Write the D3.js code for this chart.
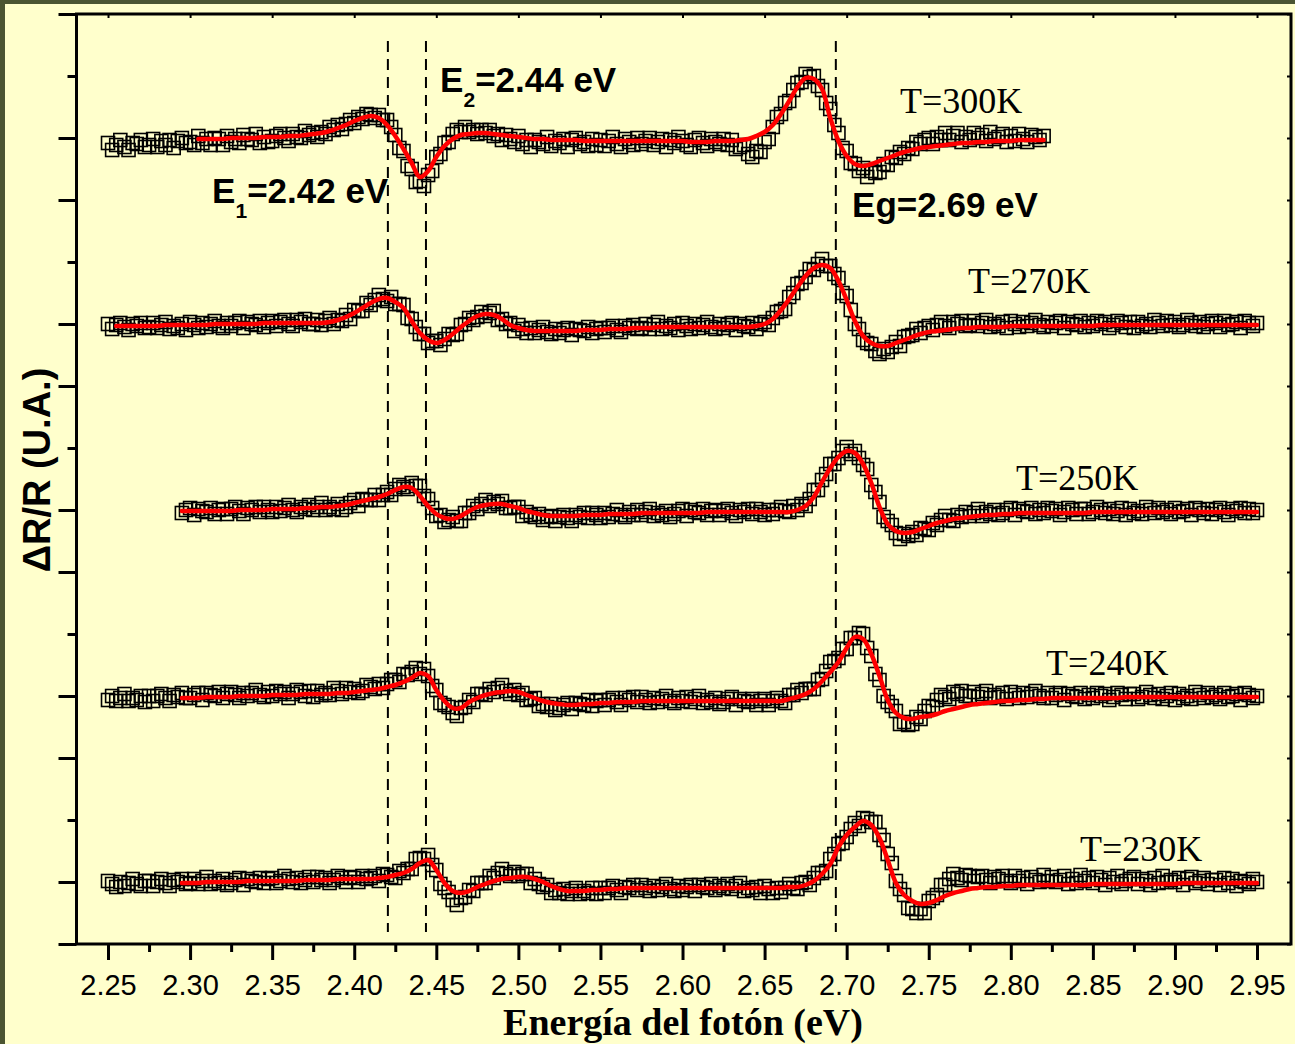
<!DOCTYPE html>
<html>
<head>
<meta charset="utf-8">
<script src="https://cdn.jsdelivr.net/npm/d3@7"></script>
<style>
  html, body { margin: 0; padding: 0; background: #4b5532; }
  svg { display: block; }
</style>
</head>
<body>
<svg id="chart" width="1295" height="1044"></svg>
<script>
// ---- Photoreflectance spectra (ΔR/R, arbitrary units) at several temperatures ----
const temps = ["T=300K", "T=270K", "T=250K", "T=240K", "T=230K"];
// vertical offset applied to each spectrum (same units as the y axis)
const offsets = [806, 620, 434, 248, 62];
// measured points: first photon energy (eV) and sampling step
const dataStart = [2.25, 2.25, 2.295, 2.25, 2.25];
const dataStep = 0.0025;
// fitted line-shape: first photon energy (eV) and sampling step
const fitStart = [2.305, 2.255, 2.295, 2.295, 2.295];
const fitStep = 0.005;

// measured ΔR/R, T = 300 K
const d300 = [
  -5,-12,-7,-2,-9,-12,-5,-6,-2,-9, -7,-1,-9,-3,-7,-2,-10,-3,0,-5,
  -4,-7,2,-5,-1,-7,0,-1,-7,2, -4,-1,-5,3,-1,-2,4,-5,1,-4,
  -3,2,4,0,-3,4,1,0,7,3, 5,1,6,4,11,8,13,9,14,18,
  15,21,19,24,23,20,23,18,18,11, 3,-10,-13,-28,-31,-44,-43,-48,-37,-33,
  -19,-16,-5,-4,4,8,6,11,6,8, 4,8,5,8,2,4,-2,3,-1,-4,
  2,-6,-2,-9,-2,-4,-6,1,-8,-3, -5,-1,-9,-2,0,-6,-4,-8,-1,-7,
  -2,-8,-3,1,-6,-9,-1,-4,-7,0, -6,-3,0,-7,-4,-1,-9,-2,-5,1,
  -3,-7,-9,-2,0,-5,-8,-1,-4,-6, -1,-7,-2,-11,-9,-7,-16,-19,-13,-14,
  -4,-1,11,21,24,35,37,48,55,56, 64,61,62,52,48,35,29,13,5,-10,
  -13,-25,-26,-33,-30,-39,-33,-35,-34,-26, -27,-19,-20,-14,-16,-10,-11,-4,-6,-2,
  0,-6,1,-2,5,-2,2,5,-4,1, -2,5,0,3,-3,6,-1,1,4,-4,
  2,-3,4,-1,-4,3,1,-2,2
];
// measured ΔR/R, T = 270 K
const d270 = [
  0,-5,-1,1,-3,-6,0,-2,1,-4, -3,1,-4,-1,2,-5,-2,-4,0,-6,
  2,-1,-4,1,-3,0,3,-2,-4,1, -2,1,3,-4,2,0,-1,3,-3,1,
  3,-2,2,4,0,-2,4,2,5,0, 0,4,-1,3,6,0,4,3,9,5,
  14,13,13,21,19,24,29,25,23,27, 20,20,19,6,5,-3,-10,-10,-19,-17,
  -17,-21,-15,-10,-11,-10,-1,0,6,4, 7,12,8,11,13,4,5,0,1,-7,
  -1,-5,-9,-4,-9,-6,-3,-8,-10,-5, -9,-6,-4,-11,-5,-6,-7,-3,-9,-5,
  -4,-8,-4,-2,-6,-8,-2,-4,-1,-5, -4,0,-5,-1,2,-5,-2,-4,0,-6,
  1,-2,-5,0,-4,-1,2,-3,-5,0, -4,-1,1,-6,0,-2,-3,1,-5,0,
  2,-1,6,12,13,15,27,31,40,41, 47,55,54,60,65,58,58,50,46,31,
  28,14,0,-5,-16,-19,-20,-27,-30,-25, -28,-23,-18,-22,-13,-12,-11,-5,-9,-4,
  -2,-6,-1,2,-2,-4,2,0,3,-2, -1,3,-2,1,4,-3,0,-2,2,-4,
  3,0,-3,2,-2,1,4,-1,-3,2, -2,1,3,-4,2,0,-1,3,-3,1,
  -2,3,0,2,-4,-1,3,1,-3,2, -4,2,-2,0,-3,4,1,-2,3,-1,
  2,-3,-1,4,1,-2,2,-3,0,3, 1,-3,3,-1,0,2,-4,3,1,-2,
  1
];
// measured ΔR/R, T = 250 K
const d250 = [
  -3,0,2,-5,1,-1,-2,2,-4,0, 1,-4,1,3,-1,-4,2,0,3,-2,
  3,0,-2,3,-1,2,5,0,-2,3, 1,5,0,3,7,0,3,1,6,0,
  3,7,10,4,11,10,10,15,10,15, 18,15,21,25,23,21,27,24,24,14,
  11,2,-6,-5,-12,-10,-7,-11,-11,-3, -3,4,1,6,10,4,8,6,9,2,
  2,3,3,-6,-2,-5,-7,-4,-10,-7, -6,-11,-7,-5,-8,-11,-5,-7,-3,-8,
  -3,-5,-8,-3,-7,-4,0,-5,-7,-2, -5,0,-5,-2,1,-6,-3,-5,-1,-7,
  -4,-1,1,-6,0,-2,-3,1,-5,-1, 0,-5,-1,1,-3,-6,0,-2,1,-4,
  1,-2,-5,0,-4,0,3,-1,-2,4, 0,6,4,11,20,20,30,36,46,46,
  52,59,63,56,59,52,45,41,25,18, 8,-7,-11,-15,-23,-29,-24,-26,-22,-25,
  -18,-19,-20,-13,-15,-10,-6,-10,-11,-5, -7,-2,-6,-3,1,-6,-2,-4,0,-5,
  -3,0,2,-5,1,-1,-2,2,-4,0, -3,2,-1,1,-5,-2,2,0,-4,1,
  1,-4,-2,3,0,-3,1,-4,-1,2, -5,1,-3,-1,-4,3,0,-3,2,-2,
  0,-4,2,-2,-1,1,-5,2,0,-3, 1,-4,0,2,-2,-5,1,-1,2,-3,
  1,-3,0
];
// measured ΔR/R, T = 240 K
const d240 = [
  -4,0,-5,-2,2,-5,-2,-4,0,-6, 0,-5,0,2,-2,-5,1,-1,3,-2,
  -2,1,3,-4,3,1,0,4,-2,2, 4,1,-2,3,0,3,6,1,-1,4,
  0,5,2,4,-2,2,6,4,0,5, -1,5,1,3,1,8,5,2,8,4,
  7,3,5,11,9,7,12,8,12,16, 16,14,22,21,24,28,22,27,20,10,
  6,-7,-9,-11,-17,-20,-12,-11,-4,-6, 2,2,1,7,4,8,11,5,2,6,
  1,3,-4,-3,-2,-10,-8,-11,-8,-14, -12,-9,-7,-13,-7,-8,-9,-4,-10,-5,
  -4,-9,-4,-2,-6,-9,-2,-4,-1,-6, -1,-4,-7,-2,-6,-3,0,-5,-7,-2,
  -5,-1,-6,-3,0,-7,-4,-6,-2,-8, -6,-3,-1,-9,-3,-5,-6,-3,-9,-5,
  -3,-9,-5,-2,-5,-7,1,1,6,3, 7,7,7,16,17,25,34,35,38,47,
  47,58,58,63,62,48,40,22,16,0, -6,-10,-15,-28,-26,-29,-28,-21,-23,-15,
  -10,-11,-4,1,-1,-3,4,2,5,0, 0,4,-1,2,5,-2,1,-1,3,-3,
  4,1,-2,3,-1,2,5,0,-2,3, -2,1,3,-4,2,0,-1,3,-3,1,
  -2,3,0,2,-4,-1,3,1,-3,2, 2,-3,-1,4,1,-2,2,-3,0,3,
  -4,2,-2,0,-3,4,1,-2,3,-1, 1,-3,3,-1,0,2,-4,3,1,-2,
  0
];
// measured ΔR/R, T = 230 K
const d230 = [
  1,-2,-5,0,-4,-1,3,-2,-4,1, 1,-4,0,3,-1,-4,2,0,3,-2,
  -1,3,-2,1,5,-2,1,-1,3,-3, -1,2,4,-3,3,1,0,4,-1,3,
  4,-1,1,6,3,0,4,-1,2,5, 0,5,2,4,-1,2,6,4,0,5,
  4,0,6,3,4,6,1,8,7,5, 4,11,9,13,13,23,24,23,27,17,
  12,-2,-6,-10,-18,-23,-16,-15,-8,-9, -1,-1,-1,6,4,9,13,8,6,10,
  6,8,8,-1,3,-2,-5,-3,-11,-8, -11,-7,-12,-9,-6,-12,-9,-11,-6,-12,
  -6,-11,-6,-4,-8,-11,-5,-6,-3,-8, -3,-6,-9,-4,-8,-5,-2,-7,-9,-4,
  -8,-5,-3,-9,-3,-5,-6,-2,-8,-4, -6,-2,-7,-4,-1,-9,-6,-8,-5,-11,
  -4,-7,-11,-6,-10,-6,-2,-6,-7,-1, 0,-3,4,9,9,11,23,28,38,39,
  45,53,59,56,64,63,60,60,47,42, 28,19,1,-7,-13,-26,-27,-31,-27,-31,
  -19,-16,-13,-3,-3,3,8,4,2,7, 6,1,5,6,2,-1,5,3,6,1,
  -1,6,1,4,-2,5,2,0,7,1, 5,0,2,6,-2,3,-1,7,1,4,
  -1,5,2,-3,4,0,6,-2,1,3, 5,-2,3,1,-3,4,-1,6,0,2,
  0,4,-3,3,5,-1,1,4,-2,2, 2,-3,4,-1,3,-4,1,0,-2,3,
  0
];

// fitted line-shapes
const f300 = [
  -1,-1,-1,-1,0,0,0,0,1,
  1,1,2,2,3,4,5,7,10,13,
  17,20,22,20,13,2,-11,-25,-39,-33,
  -19,-8,-1,3,4,5,5,4,3,2,
  1,0,-1,-1,-2,-2,-2,-2,-3,-3,
  -3,-3,-3,-3,-3,-3,-3,-3,-3,-3,
  -3,-4,-4,-4,-3,-3,-3,-2,-1,2,
  6,13,24,37,51,60,59,49,20,-3,
  -18,-26,-28,-26,-23,-20,-17,-14,-12,-10,
  -9,-8,-7,-6,-5,-5,-4,-4,-3,-3,
  -3,-2,-2,-2,-2
];
const f270 = [
  -2,-2,-2,-2,-2,-2,-1,-1,-1,-1,
  -1,-1,0,0,0,0,0,0,1,1,
  1,1,1,1,1,1,2,4,7,11,
  16,21,25,26,22,16,3,-9,-16,-19,
  -16,-10,-3,3,8,10,9,5,-1,-4,
  -6,-7,-7,-7,-7,-7,-7,-6,-6,-6,
  -5,-5,-5,-4,-4,-4,-3,-3,-3,-3,
  -3,-3,-3,-3,-3,-3,-3,-3,-2,0,
  5,14,25,37,48,56,59,56,43,24,
  3,-12,-19,-22,-22,-19,-16,-13,-10,-8,
  -7,-6,-5,-4,-4,-3,-3,-3,-3,-2,
  -2,-2,-2,-2,-2,-2,-2,-2,-2,-2,
  -1,-1,-1,-1,-1,-1,-1,-1,-1,-1,
  -1,-1,-1,-1,-1,-1,-1,-1,-1,-1
];
const f250 = [
  -1,-1,-1,-1,-1,-1,-1,0,0,0,
  0,1,1,1,1,2,2,3,3,4,
  5,7,9,11,13,16,20,23,22,14,
  4,-4,-8,-9,-6,-1,3,5,6,6,
  4,2,-1,-3,-5,-6,-6,-6,-6,-5,
  -5,-5,-4,-4,-4,-4,-3,-3,-3,-3,
  -3,-3,-3,-3,-2,-2,-2,-2,-2,-2,
  -2,-2,-2,-2,-2,0,4,13,28,42,
  53,59,57,46,27,3,-14,-21,-23,-22,
  -19,-16,-13,-11,-9,-8,-7,-6,-5,-5,
  -4,-4,-3,-3,-3,-3,-3,-3,-3,-3,
  -3,-2,-2,-2,-2,-2,-2,-2,-2,-2,
  -2,-2,-2,-2,-2,-2,-2,-2,-2,-2,
  -2,-2
];
const f240 = [
  -2,-2,-2,-1,-1,-1,-1,0,0,0,
  0,1,1,1,1,2,2,2,2,3,
  3,4,5,6,7,9,11,14,18,23,
  20,6,-5,-12,-12,-6,-2,1,3,4,
  5,4,1,-2,-5,-7,-8,-9,-9,-8,
  -8,-7,-7,-6,-6,-6,-5,-5,-5,-5,
  -5,-5,-5,-5,-5,-5,-5,-5,-5,-5,
  -5,-5,-5,-5,-3,-1,2,7,15,24,
  34,48,59,57,42,20,-4,-17,-22,-23,
  -21,-20,-18,-15,-13,-11,-9,-8,-7,-6,
  -5,-5,-4,-4,-3,-3,-2,-2,-2,-2,
  -2,-2,-2,-2,-2,-1,-1,-1,-1,-1,
  -1,-1,-1,-1,-1,-1,-1,-1,-1,-1,
  -1,-1
];
const f230 = [
  -1,-1,-1,0,0,0,0,0,1,1,
  1,1,1,1,1,2,2,2,2,3,
  3,3,3,3,4,5,7,9,13,19,
  22,12,-1,-9,-11,-9,-5,-2,1,3,
  4,5,5,3,0,-4,-7,-9,-9,-9,
  -8,-8,-7,-7,-6,-6,-6,-6,-6,-6,
  -6,-6,-6,-6,-6,-6,-6,-6,-6,-6,
  -6,-6,-6,-6,-5,-5,-3,1,8,18,
  35,47,55,61,57,44,22,-1,-13,-19,
  -22,-21,-18,-14,-11,-9,-7,-6,-5,-5,
  -4,-4,-3,-3,-3,-3,-3,-3,-3,-3,
  -3,-2,-2,-2,-2,-2,-2,-2,-2,-2,
  -2,-2,-1,-1,-1,-1,-1,-1,-1,-1,
  -1,-1
];

const measured = [d300, d270, d250, d240, d230];
const fitted = [f300, f270, f250, f240, f230];

// transition energies (eV): E1, E2 and band gap Eg
const transitions = [2.4205, 2.4437, 2.6934];
const transitionNames = ["E", "E", "Eg"];
const transitionSubs = ["1", "2", ""];

// axis ticks
const xMajor = [2.25, 2.30, 2.35, 2.40, 2.45, 2.50, 2.55, 2.60, 2.65, 2.70, 2.75, 2.80, 2.85, 2.90, 2.95];
const xMinor = [2.275, 2.325, 2.375, 2.425, 2.475, 2.525, 2.575, 2.625, 2.675, 2.725, 2.775, 2.825, 2.875, 2.925];
const yTicks = [0, 62, 124, 186, 248, 310, 372, 434, 496, 558, 620, 682, 744, 806, 868, 930];

// ---- layout ----
const W = 1295, H = 1044;
const x = d3.scaleLinear().domain([2.2308, 2.9707]).range([76.5, 1291]);
const y = d3.scaleLinear().domain([0, 930]).range([944, 14]);

// label anchors (energy, y units)
const tempLabelPos = [[2.7325, 831], [2.7739, 651], [2.8032, 454], [2.8215, 269], [2.8422, 83]];
const transLabelPos = [[2.3134, 741], [2.4523, 852], [2.7033, 727]];

const SANS = "'Liberation Sans', Arial, Helvetica, sans-serif";
const SERIF = "'Liberation Serif', 'Times New Roman', Times, serif";

const svg = d3.select("#chart");

// page background and frame colour
svg.append("rect").attr("width", W).attr("height", H).attr("fill", "#4b5532");
svg.append("rect").attr("x", 5).attr("y", 4).attr("width", W - 5).attr("height", H - 4).attr("fill", "#ffffcc");

// dashed markers at the transition energies
svg.append("g").selectAll("line").data(transitions).join("line")
  .attr("x1", d => x(d)).attr("x2", d => x(d))
  .attr("y1", y(903)).attr("y2", y(12))
  .attr("stroke", "#000").attr("stroke-width", 2)
  .attr("stroke-dasharray", "11,7");

// spectra: open squares for measured points, red line for the fit
const line = d3.line()
  .x(d => x(d[0])).y(d => y(d[1]))
  .curve(d3.curveCatmullRom.alpha(0.5));

measured.forEach((vals, i) => {
  const pts = vals.map((v, k) => [dataStart[i] + dataStep * k, offsets[i] + v]);
  const fit = fitted[i].map((v, k) => [fitStart[i] + fitStep * k, offsets[i] + v]);
  const g = svg.append("g");
  g.selectAll("rect").data(pts).join("rect")
    .attr("x", d => x(d[0]) - 6.5).attr("y", d => y(d[1]) - 6.5)
    .attr("width", 13).attr("height", 13)
    .attr("fill", "none").attr("stroke", "#000").attr("stroke-width", 1.6);
  g.append("path").datum(fit)
    .attr("d", line)
    .attr("fill", "none").attr("stroke", "#ff0000")
    .attr("stroke-width", 4.5).attr("stroke-linejoin", "round").attr("stroke-linecap", "round");
});

// temperature labels
svg.append("g").selectAll("text").data(temps).join("text")
  .attr("x", (d, i) => x(tempLabelPos[i][0]))
  .attr("y", (d, i) => y(tempLabelPos[i][1]))
  .attr("font-family", SERIF).attr("font-size", 36).attr("fill", "#000")
  .text(d => d);

// transition labels
const fmt = d3.format(".2f");
transitions.forEach((e, i) => {
  const t = svg.append("text")
    .attr("x", x(transLabelPos[i][0])).attr("y", y(transLabelPos[i][1]))
    .attr("font-family", SANS).attr("font-weight", "bold")
    .attr("font-size", 35).attr("fill", "#000");
  t.append("tspan").text(transitionNames[i]);
  if (transitionSubs[i]) {
    t.append("tspan").attr("font-size", 21).attr("dy", 15).text(transitionSubs[i]);
    t.append("tspan").attr("dy", -15).text("=" + fmt(e) + " eV");
  } else {
    t.append("tspan").text("=" + fmt(e) + " eV");
  }
});

// axes
function styleAxis(g) {
  g.select(".domain").remove();
  g.selectAll(".tick line").attr("stroke", "#000").attr("stroke-width", 3);
}
const gB = svg.append("g").attr("transform", `translate(0,${y(0)})`)
  .call(d3.axisBottom(x).tickValues(xMajor).tickSize(16).tickPadding(14).tickFormat(fmt));
styleAxis(gB);
gB.selectAll(".tick text").attr("font-family", SANS).attr("font-size", 29).attr("fill", "#000");
const gBm = svg.append("g").attr("transform", `translate(0,${y(0)})`)
  .call(d3.axisBottom(x).tickValues(xMinor).tickSize(8).tickFormat(""));
styleAxis(gBm);

const gT = svg.append("g").attr("transform", `translate(0,${y(930)})`)
  .call(d3.axisTop(x).tickValues(xMajor).tickSize(-4).tickFormat(""));
styleAxis(gT);
gT.selectAll(".tick line").attr("stroke-width", 2);

const gL = svg.append("g").attr("transform", `translate(${x.range()[0]},0)`)
  .call(d3.axisLeft(y).tickValues(yTicks.filter((d, k) => k % 3 !== 2)).tickSize(18).tickFormat(""));
styleAxis(gL);
const gLs = svg.append("g").attr("transform", `translate(${x.range()[0]},0)`)
  .call(d3.axisLeft(y).tickValues(yTicks.filter((d, k) => k % 3 === 2)).tickSize(9).tickFormat(""));
styleAxis(gLs);

const gR = svg.append("g").attr("transform", `translate(${x.range()[1]},0)`)
  .call(d3.axisRight(y).tickValues(yTicks).tickSize(-4).tickFormat(""));
styleAxis(gR);
gR.selectAll(".tick line").attr("stroke-width", 2);

// plot frame
svg.append("rect")
  .attr("x", x.range()[0]).attr("y", y(930))
  .attr("width", x.range()[1] - x.range()[0]).attr("height", y(0) - y(930))
  .attr("fill", "none").attr("stroke", "#000").attr("stroke-width", 3);

// axis titles
svg.append("text")
  .attr("x", 683).attr("y", 1035)
  .attr("text-anchor", "middle")
  .attr("font-family", SERIF).attr("font-weight", "bold").attr("font-size", 38)
  .attr("fill", "#000")
  .text("Energía del fotón (eV)");

svg.append("text")
  .attr("transform", "translate(50,470) rotate(-90)")
  .attr("text-anchor", "middle")
  .attr("font-family", SANS).attr("font-weight", "bold").attr("font-size", 38)
  .attr("fill", "#000")
  .text("ΔR/R (U.A.)");
</script>
</body>
</html>
